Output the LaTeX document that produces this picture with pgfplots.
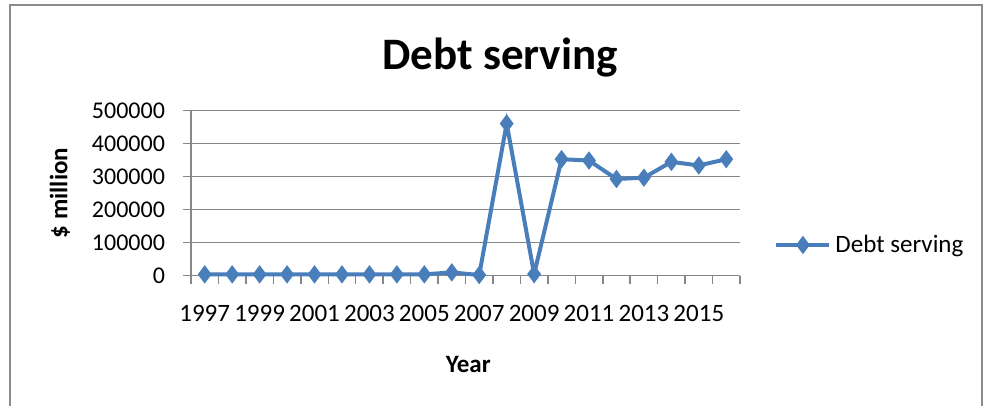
\documentclass[border=0pt]{standalone}
\usepackage{fontspec}
\setmainfont{Carlito}
\usepackage{pgfplots}
\pgfplotsset{compat=1.18}
\definecolor{serblue}{HTML}{4A7EBB}
\definecolor{gridgray}{HTML}{868686}
\definecolor{framegray}{HTML}{8C8C8C}
\begin{document}
\begin{tikzpicture}
\useasboundingbox (0,0) rectangle (496pt,203pt);
\draw[framegray, line width=1pt] (5pt,-2pt) -- (5pt,200.5pt) -- (491pt,200.5pt) -- (491pt,-2pt);
\begin{axis}[
  at={(95.5pt,65.15pt)}, anchor=south west,
  scale only axis, width=274.5pt, height=82.5pt,
  xmin=1996.5, xmax=2016.5, ymin=0, ymax=500000,
  axis x line*=bottom, axis y line*=left,
  axis line style={gridgray, line width=0.75pt},
  xtick={1997,1999,...,2015},
  xticklabels={1997,1999,2001,2003,2005,2007,2009,2011,2013,2015},
  major x tick style={draw=none},
  minor xtick={1996.5,1997.5,...,2016.5},
  minor x tick style={gridgray, line width=0.75pt},
  minor tick length=4pt,
  ytick={0,100000,...,500000},
  major y tick style={gridgray, line width=0.75pt},
  major tick length=4pt,
  tick align=outside,
  ymajorgrids, grid style={gridgray, line width=0.75pt},
  scaled y ticks=false,
  /pgf/number format/assume math mode=true,
  yticklabel style={/pgf/number format/fixed, /pgf/number format/1000 sep={}, font=\fontsize{12}{14}\selectfont, xshift=-5.5pt},
  xticklabel style={font=\fontsize{12.5}{15}\selectfont, yshift=-7.5pt},
  every axis title shift=0pt,
  title={\textbf{Debt serving}},
  title style={at={(axis description cs:0.563,1.32)}, anchor=center, font=\fontsize{22.5}{27}\selectfont},
  ylabel={\textbf{\$ million}},
  ylabel style={at={(axis description cs:-0.2386,0.501)}, anchor=center, rotate=0, font=\fontsize{12.5}{15}\selectfont},
  xlabel={\textbf{Year}},
  xlabel style={at={(axis description cs:0.505,-0.54)}, anchor=center, font=\fontsize{12.5}{15}\selectfont},
  legend style={draw=none, fill=none, at={(axis description cs:1.062,0.186)}, anchor=west, inner sep=0pt, font=\fontsize{12.5}{15}\selectfont},
  legend cell align=left,
  legend image code/.code={
    \draw[#1, mark=none] (0pt,0pt) -- (26.5pt,0pt);
    \draw[#1, only marks] plot coordinates {(13.25pt,0pt)};
  },
  clip=false,
]
\addplot[serblue, line width=2pt, mark=diamond*, mark size=4.2pt, mark options={fill=serblue, line width=0.5pt}]
coordinates {
(1997,4000) (1998,4000) (1999,4000) (2000,4000) (2001,4000)
(2002,4000) (2003,4000) (2004,4000) (2005,4000) (2006,10000)
(2007,2000) (2008,461000) (2009,5000) (2010,353000) (2011,349000)
(2012,293000) (2013,297000) (2014,345000) (2015,334000) (2016,353000)
};
\addlegendentry{Debt serving}
\end{axis}
\end{tikzpicture}
\end{document}
